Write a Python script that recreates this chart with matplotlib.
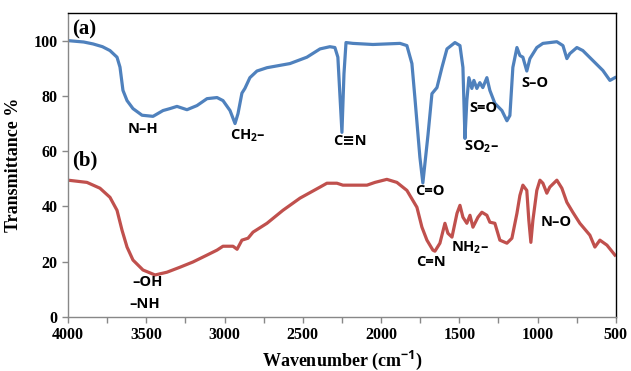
import matplotlib
matplotlib.use("Agg")
import matplotlib.pyplot as plt
from matplotlib.ticker import MultipleLocator

# Spectrum (a) - blue
wn_a = [4000, 3900, 3840, 3780, 3732, 3687, 3668, 3649, 3623, 3585, 3527, 3457, 3393, 3349, 3304, 3240,
        3176, 3112, 3048, 3010, 2965, 2933, 2914, 2889, 2870, 2838, 2793, 2729, 2582, 2474,
        2390, 2327, 2295, 2276, 2250, 2237, 2224, 2180, 2052, 1879, 1835, 1803, 1784, 1752,
        1733, 1700, 1675, 1643, 1611, 1579, 1528, 1496, 1477, 1464, 1452, 1439, 1420, 1407,
        1388, 1369, 1350, 1324, 1305, 1273, 1228, 1196, 1177, 1158, 1132, 1113, 1094, 1069,
        1049, 1005, 966, 877, 838, 813, 794, 749, 711, 647, 583, 538, 506]
t_a = [100, 99.5, 98.8, 97.8, 96.4, 94, 90.4, 82, 78.3, 75.4, 73, 72.6, 74.7, 75.4, 76.2, 75,
       76.5, 79, 79.4, 78.3, 74.7, 70, 73.6, 81, 82.7, 86.6, 89, 90.2, 91.7, 94,
       97, 97.8, 97.5, 94, 66.8, 88, 99.3, 99, 98.6, 99, 98.2, 91.7, 79.4, 57.8,
       48.5, 66, 80.8, 83, 90.3, 97, 99.3, 98.2, 90.3, 64.6, 78.3, 86.6, 82.7, 85.6,
       82.7, 84.8, 83, 86.6, 82, 77.3, 74.7, 71, 72.9, 90.3, 97.5, 94.6, 94, 89,
       93.5, 97.5, 99, 99.6, 98.2, 93.5, 95.3, 97.5, 96.4, 92.8, 89.2, 85.6, 86.6]

# Spectrum (b) - red
wn_b = [4000, 3879, 3796, 3732, 3687, 3655, 3623, 3585, 3521, 3444, 3368, 3285, 3202, 3112,
        3048, 3010, 2946, 2920, 2889, 2850, 2818, 2729, 2627, 2518, 2390, 2346, 2282, 2244,
        2090, 2039, 1963, 1899, 1835, 1771, 1739, 1707, 1669, 1656, 1624, 1592, 1573, 1547,
        1515, 1496, 1477, 1452, 1432, 1413, 1381, 1356, 1324, 1305, 1273, 1241, 1196, 1164,
        1132, 1113, 1094, 1069, 1056, 1043, 1030, 1005, 985, 966, 941, 922, 877, 845, 813,
        775, 730, 666, 634, 602, 557, 506]
t_b = [49.5, 48.7, 46.6, 43.3, 38.6, 31.4, 25.3, 20.6, 17, 15.2, 16.2, 18, 19.9, 22.4,
       24.2, 25.6, 25.6, 24.5, 27.8, 28.5, 30.7, 33.9, 38.6, 43, 47, 48.4, 48.4, 47.7,
       47.7, 48.7, 49.8, 48.7, 45.8, 39.7, 32.5, 27.8, 24.2, 23.8, 26.7, 33.9, 30.3, 28.9,
       37.5, 40.4, 36.1, 33.9, 36.8, 32.5, 36.1, 37.9, 36.8, 34.3, 33.9, 27.8, 26.7, 28.5,
       37.5, 44, 47.7, 45.8, 35, 27, 35, 45.8, 49.5, 48.4, 44.8, 47, 49.5, 46.6, 41.5,
       37.9, 33.9, 29.6, 25.3, 27.8, 26, 22.4]

# Annotations: (text, wavenumber, transmittance)
labels_a = [("N\u2013H", 3521, 67.9), ("CH$_2$\u2013", 2850, 65.7), ("C\u2261N", 2199, 63.5),
            ("C=O", 1688, 45.5), ("S=O", 1343, 75.8), ("SO$_2$\u2013", 1362, 61.4),
            ("S\u2013O", 1017, 84.8)]
labels_b = [("\u2013OH", 3495, 12.6), ("\u2013NH", 3508, 4.7), ("C=N", 1682, 19.9),
            ("NH$_2$\u2013", 1432, 24.9), ("N\u2013O", 883, 34.3)]

plt.rcParams["mathtext.fontset"] = "custom"
plt.rcParams["mathtext.rm"] = "Open Sans:bold"
plt.rcParams["mathtext.it"] = "Open Sans:bold"
plt.rcParams["mathtext.bf"] = "Open Sans:bold"

fig = plt.figure(figsize=(6.31, 3.71), dpi=100)
ax = fig.add_axes([0.1078, 0.1456, 0.976 - 0.1078, 0.965 - 0.1456])

ax.plot(wn_a, t_a, color="#4F81BD", lw=2.3, solid_joinstyle="round")
ax.plot(wn_b, t_b, color="#C0504D", lw=2.3, solid_joinstyle="round")

ax.set_xlim(4000, 500)
ax.set_ylim(0, 110)
ax.set_yticks([0, 20, 40, 60, 80, 100])
ax.xaxis.set_major_locator(MultipleLocator(500))
ax.xaxis.set_minor_locator(MultipleLocator(250))

for s in ["left", "bottom"]:
    ax.spines[s].set_color("#888888")
    ax.spines[s].set_linewidth(1.0)
for s in ["top", "right"]:
    ax.spines[s].set_color("black")
    ax.spines[s].set_linewidth(1.0)

ax.tick_params(axis="both", which="both", direction="out", color="#888888", length=4, width=1)
serif = "Liberation Serif"
for lab in ax.get_xticklabels() + ax.get_yticklabels():
    lab.set_fontfamily(serif)
    lab.set_fontweight("bold")
    lab.set_fontsize(11.5)

ax.set_xlabel("Wavenumber (cm$^{-1}$)", fontfamily=serif, fontweight="bold", fontsize=13, labelpad=4)
ax.set_ylabel("Transmittance %", fontfamily=serif, fontweight="bold", fontsize=13, labelpad=8)

ax.text(3975, 104, "(a)", fontfamily=serif, fontweight="bold", fontsize=15, ha="left", va="center")
ax.text(3975, 56.7, "(b)", fontfamily=serif, fontweight="bold", fontsize=15, ha="left", va="center")

for txt, x, y in labels_a + labels_b:
    ax.text(x, y, txt, family=["Open Sans", "DejaVu Sans"], fontweight="bold", fontsize=10.5,
            ha="center", va="center")

fig.savefig("out.png", dpi=100)
